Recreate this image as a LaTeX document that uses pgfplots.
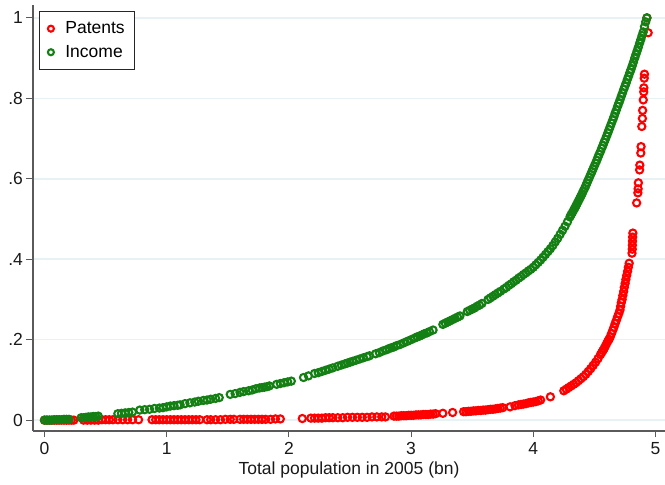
\documentclass[border=0pt]{standalone}
\usepackage{fontspec}
\setmainfont{Liberation Sans}
\usepackage{pgfplots}
\pgfplotsset{compat=1.18}
\definecolor{patred}{RGB}{255,0,0}
\definecolor{incgreen}{RGB}{20,128,20}
\definecolor{axisgray}{RGB}{90,90,90}
\definecolor{gridblue}{RGB}{232,241,243}

\begin{document}
\begin{tikzpicture}[x=1pt,y=1pt]
\begin{axis}[
  at={(33pt,54pt)}, anchor=south west,
  scale only axis, width=632pt, height=426pt,
  xmin=-0.094, xmax=5.078, ymin=-0.027, ymax=1.032,
  axis x line*=bottom, axis y line*=left,
  axis line style={axisgray, line width=1.6pt, -},
  xtick={0,1,2,3,4,5},
  ytick={0,0.2,0.4,0.6,0.8,1},
  yticklabels={0,.2,.4,.6,.8,1},
  /pgf/number format/assume math mode=true,
  tick align=outside, major tick length=6.5pt,
  tick style={axisgray, line width=1.1pt},
  ymajorgrids, grid style={gridblue, line width=1.5pt},
  ticklabel style={font=\fontsize{17.5}{21}\selectfont, text=black!90},
  xticklabel style={yshift=-1.5pt},
  xlabel={Total population in 2005 (bn)},
  xlabel style={font=\fontsize{17.5}{21}\selectfont, text=black!90},
  legend style={at={(rel axis cs:0.0095,0.986)}, anchor=north west,
    draw=black!85, line width=0.9pt, fill=white,
    font=\fontsize{17.5}{21}\selectfont, inner xsep=8pt, inner ysep=8.5pt,
    row sep=6pt, cells={anchor=west}},
  legend image code/.code={%
    \draw[#1, mark size=3pt, line width=1.5pt] plot coordinates {(0pt,0pt)};
    \path (-3pt,0pt) (12pt,0pt);},
]

% Patents: cumulative share against cumulative population
\addplot[only marks, mark=o, mark size=3.6pt, patred, mark options={line width=2.1pt}]
coordinates {
(0.00,0.000) (0.02,0.000) (0.04,0.000) (0.06,0.000) (0.08,0.000) (0.10,0.000) (0.12,0.000)
(0.14,0.000) (0.16,0.000) (0.18,0.000) (0.20,0.000) (0.22,0.000) (0.24,0.000)
(0.32,0.000) (0.35,0.000) (0.38,0.000) (0.41,0.000) (0.44,0.000) (0.47,0.001) (0.50,0.001)
(0.53,0.001) (0.56,0.001) (0.60,0.001) (0.64,0.001) (0.68,0.001) (0.72,0.001) (0.77,0.001)
(0.88,0.001) (0.91,0.001) (0.94,0.001) (0.97,0.001) (1.00,0.001) (1.03,0.001) (1.06,0.001)
(1.09,0.001) (1.12,0.001) (1.15,0.001) (1.18,0.001) (1.21,0.001) (1.24,0.001) (1.27,0.001)
(1.33,0.001) (1.36,0.001) (1.40,0.001) (1.44,0.001) (1.48,0.002) (1.52,0.002) (1.55,0.002)
(1.60,0.002) (1.63,0.002) (1.66,0.002) (1.69,0.002) (1.72,0.002) (1.75,0.002) (1.78,0.002)
(1.81,0.002) (1.85,0.002) (1.89,0.003) (1.93,0.003)
(2.11,0.004)
(2.18,0.005) (2.21,0.005) (2.24,0.005) (2.27,0.005) (2.30,0.006) (2.33,0.006) (2.36,0.006)
(2.40,0.006) (2.44,0.006) (2.48,0.007) (2.52,0.007) (2.56,0.007) (2.60,0.007) (2.64,0.007)
(2.68,0.008) (2.72,0.008) (2.76,0.008) (2.79,0.008)
(2.86,0.010) (2.88,0.010) (2.90,0.010) (2.92,0.011) (2.94,0.011) (2.96,0.011) (2.98,0.012)
(3.00,0.012) (3.02,0.012) (3.04,0.013) (3.06,0.013) (3.08,0.013) (3.10,0.014) (3.12,0.014)
(3.14,0.014) (3.16,0.015) (3.18,0.015) (3.20,0.016)
(3.26,0.017) (3.34,0.019)
(3.43,0.021) (3.45,0.021) (3.47,0.022) (3.49,0.022) (3.51,0.023) (3.53,0.023) (3.55,0.024)
(3.57,0.024) (3.59,0.025) (3.61,0.025) (3.63,0.026) (3.65,0.027) (3.67,0.027) (3.69,0.028)
(3.71,0.029) (3.73,0.030) (3.75,0.031)
(3.81,0.033) (3.85,0.036)
(3.88,0.038) (3.90,0.039) (3.92,0.040) (3.94,0.041) (3.96,0.043) (3.98,0.044) (4.00,0.045)
(4.02,0.046) (4.04,0.048) (4.06,0.050)
(4.14,0.058)
(4.25,0.073) (4.27,0.077) (4.29,0.081) (4.31,0.085) (4.33,0.089) (4.35,0.093) (4.37,0.098)
(4.39,0.103) (4.41,0.108) (4.43,0.114) (4.45,0.121) (4.47,0.128) (4.49,0.136) (4.51,0.144)
(4.53,0.153) (4.55,0.163) (4.56,0.168) (4.57,0.173) (4.58,0.178) (4.59,0.184) (4.60,0.190)
(4.61,0.196) (4.62,0.201) (4.63,0.207) (4.64,0.215) (4.65,0.223) (4.66,0.231) (4.67,0.240)
(4.68,0.248) (4.69,0.257) (4.70,0.265) (4.71,0.274) (4.715,0.283) (4.72,0.292) (4.727,0.300)
(4.733,0.310) (4.740,0.320) (4.745,0.330) (4.752,0.340) (4.758,0.350) (4.765,0.360)
(4.772,0.370) (4.778,0.380) (4.785,0.390)
(4.808,0.415) (4.810,0.425) (4.811,0.435) (4.812,0.445) (4.813,0.455) (4.815,0.465)
(4.846,0.540) (4.856,0.565) (4.858,0.575) (4.860,0.590)
(4.870,0.622) (4.872,0.634) (4.880,0.664) (4.882,0.680)
(4.888,0.730) (4.893,0.750) (4.895,0.770) (4.900,0.796) (4.904,0.816) (4.905,0.826)
(4.908,0.850) (4.910,0.860) (4.940,0.963) (4.930,1.000)
};
\addlegendentry{Patents}

% Income: cumulative share against cumulative population
\addplot[only marks, mark=o, mark size=3.6pt, incgreen, mark options={line width=2.1pt}]
coordinates {
(0.00,0.000) (0.02,0.000) (0.04,0.000) (0.06,0.000) (0.08,0.001) (0.10,0.001) (0.12,0.001)
(0.14,0.001) (0.16,0.002) (0.18,0.002) (0.20,0.002)
(0.30,0.006) (0.32,0.006) (0.34,0.007) (0.36,0.008) (0.38,0.008) (0.40,0.009) (0.42,0.009)
(0.44,0.010)
(0.60,0.016) (0.63,0.017) (0.66,0.018) (0.69,0.019) (0.72,0.020)
(0.78,0.025) (0.82,0.026) (0.86,0.027) (0.90,0.029) (0.94,0.030) (0.97,0.031) (1.00,0.033)
(1.03,0.035) (1.06,0.036) (1.09,0.037) (1.11,0.038)
(1.15,0.041) (1.19,0.043) (1.23,0.045) (1.26,0.047) (1.30,0.049) (1.33,0.050) (1.36,0.052)
(1.40,0.054) (1.43,0.056)
(1.52,0.064) (1.56,0.066) (1.60,0.069) (1.63,0.071) (1.67,0.073) (1.70,0.075) (1.73,0.078)
(1.76,0.080) (1.78,0.081) (1.80,0.082) (1.82,0.083) (1.84,0.085)
(1.90,0.089) (1.93,0.091) (1.96,0.093) (1.99,0.095) (2.02,0.097)
(2.12,0.106) (2.16,0.110)
(2.21,0.116) (2.24,0.118) (2.27,0.121) (2.30,0.124) (2.33,0.127) (2.36,0.130)
(2.40,0.134) (2.43,0.137) (2.46,0.140) (2.48,0.142) (2.50,0.144) (2.52,0.146) (2.55,0.149)
(2.58,0.152) (2.61,0.155) (2.64,0.158) (2.66,0.160)
(2.71,0.165) (2.74,0.168) (2.77,0.172) (2.80,0.175) (2.82,0.178) (2.84,0.180) (2.86,0.182)
(2.88,0.185) (2.91,0.188)
(2.94,0.192) (2.97,0.196) (3.00,0.200) (3.03,0.204) (3.05,0.207) (3.07,0.209) (3.09,0.212)
(3.11,0.215) (3.13,0.217) (3.15,0.220) (3.18,0.224)
(3.26,0.238) (3.28,0.241) (3.30,0.244) (3.32,0.247) (3.34,0.250) (3.36,0.253) (3.38,0.256)
(3.40,0.259)
(3.46,0.270) (3.48,0.273) (3.50,0.276) (3.52,0.279) (3.54,0.283) (3.56,0.286) (3.58,0.290)
(3.63,0.300) (3.65,0.304) (3.67,0.308) (3.69,0.312) (3.71,0.316) (3.73,0.320)
(3.76,0.326) (3.78,0.330) (3.80,0.335) (3.82,0.339) (3.84,0.344) (3.86,0.348) (3.88,0.353)
(3.90,0.357) (3.92,0.362) (3.94,0.366) (3.96,0.371) (3.98,0.375) (4.00,0.380)
(4.02,0.386) (4.04,0.392) (4.06,0.398) (4.08,0.405) (4.10,0.412) (4.12,0.419) (4.14,0.426)
(4.16,0.434) (4.18,0.443) (4.20,0.452) (4.22,0.462) (4.24,0.472) (4.26,0.482) (4.28,0.493)
(4.30,0.505) (4.31,0.511) (4.32,0.516) (4.33,0.522) (4.34,0.527) (4.35,0.533) (4.36,0.539)
(4.37,0.545) (4.38,0.551) (4.39,0.557) (4.40,0.563) (4.41,0.570) (4.42,0.576) (4.43,0.583)
(4.44,0.590) (4.45,0.597) (4.46,0.604) (4.47,0.611) (4.48,0.618) (4.49,0.625) (4.50,0.632)
(4.51,0.639) (4.52,0.646) (4.53,0.654) (4.54,0.661) (4.55,0.668) (4.56,0.676) (4.57,0.683)
(4.58,0.691) (4.59,0.698) (4.60,0.706) (4.61,0.714) (4.62,0.722) (4.63,0.730) (4.64,0.738)
(4.65,0.746) (4.66,0.754) (4.67,0.763) (4.68,0.771) (4.69,0.780) (4.70,0.788) (4.71,0.796)
(4.72,0.805) (4.73,0.813) (4.74,0.822) (4.75,0.830) (4.76,0.838) (4.77,0.847) (4.78,0.855)
(4.79,0.864) (4.80,0.872) (4.81,0.881) (4.82,0.890) (4.83,0.900) (4.84,0.909) (4.85,0.918)
(4.86,0.927) (4.87,0.937) (4.88,0.946) (4.89,0.956) (4.90,0.965) (4.91,0.978) (4.92,0.990)
(4.93,1.000)
};
\addlegendentry{Income}
\end{axis}
\pgfresetboundingbox
\useasboundingbox (0,0) rectangle (665,485);
\end{tikzpicture}
\end{document}
